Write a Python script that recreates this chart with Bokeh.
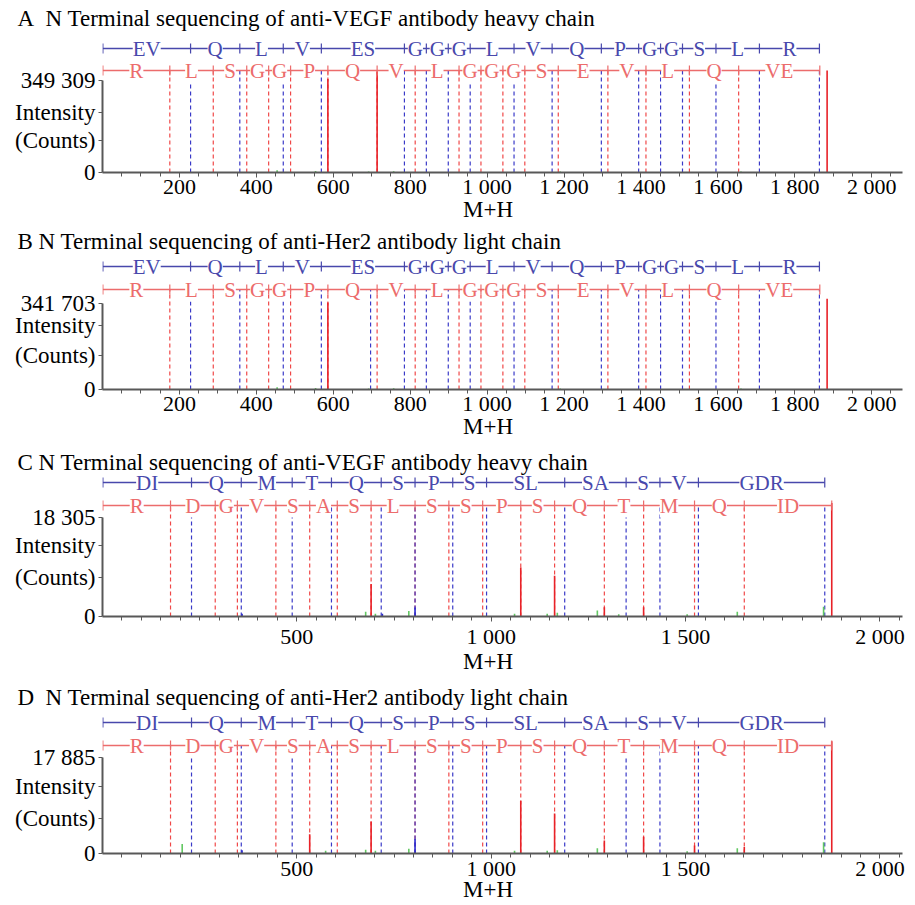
import math
from bokeh.plotting import figure
from bokeh.models import FixedTicker, Range1d, CustomJSTickFormatter
from bokeh.layouts import column
from bokeh.embed import file_html
from bokeh.resources import INLINE
from bokeh.core.properties import value

# ---------------- data ----------------
titles = [
    "A\u2002N Terminal sequencing of anti-VEGF antibody heavy chain",
    "B N Terminal sequencing of anti-Her2 antibody light chain",
    "C N Terminal sequencing of anti-VEGF antibody heavy chain",
    "D\u2002N Terminal sequencing of anti-Her2 antibody light chain",
]
y_max = [349309, 341703, 18305, 17885]
y_label_lines = ["Intensity", "(Counts)"]
x_label = "M+H"

# heavy chain ladders (panels A, B)
ab_blue_bounds = [1, 229, 357, 470, 569, 785, 842, 899, 956, 1070, 1169, 1297,
                  1394, 1451, 1508, 1595, 1708, 1864]
ab_blue_labels = ["EV", "Q", "L", "V", "ES", "G", "G", "G", "L", "V", "Q", "P",
                  "G", "G", "S", "L", "R"]
ab_red_bounds = [1, 175, 288, 375, 432, 489, 586, 714, 813, 927, 984, 1041, 1098,
                 1185, 1314, 1413, 1526, 1654, 1865]
ab_red_labels = ["R", "L", "S", "G", "G", "P", "Q", "V", "L", "G", "G", "G", "S",
                 "E", "V", "L", "Q", "VE"]
a_blue_dash = [229, 357, 470, 569, 785, 842, 899, 956, 1070, 1169, 1297, 1394,
               1451, 1508, 1595, 1708, 1864]
b_blue_dash = [229, 357, 470, 569, 697, 785, 842, 899, 956, 1070, 1169, 1297, 1394,
               1451, 1508, 1595, 1708, 1864]
ab_red_dash = [175, 288, 375, 432, 489, 586, 714, 813, 927, 984, 1041, 1098,
               1185, 1314, 1413, 1526, 1654]

# light chain ladders (panels C, D)
cd_blue_bounds = [1, 229, 357, 488, 589, 717, 804, 901, 988, 1189, 1347, 1434,
                  1533, 1858]
cd_blue_labels = ["DI", "Q", "M", "T", "Q", "S", "P", "S", "SL", "SA", "S", "V", "GDR"]
cd_red_bounds = [1, 175, 290, 347, 446, 533, 604, 691, 804, 891, 978, 1076, 1163,
                 1291, 1392, 1523, 1651, 1876]
cd_red_labels = ["R", "D", "G", "V", "S", "A", "S", "L", "S", "S", "P", "S", "Q",
                 "T", "M", "Q", "ID"]
cd_blue_dash = [229, 357, 488, 589, 717, 804, 901, 988, 1189, 1347, 1434, 1533, 1858]
cd_red_dash = [175, 290, 347, 446, 533, 604, 691, 804, 891, 978, 1076, 1163,
               1291, 1392, 1523, 1651]

# spectrum peaks (m/z, intensity)
a_red_mz = [586, 714, 1884]
a_red_int = [355000, 383000, 387000]
b_red_mz = [586, 1884]
b_red_int = [346000, 361000]
ab_green_mz = [454, 554, 692, 757, 1190, 1660]
ab_green_int = [9000, 6000, 4000, 5000, 4000, 4000]

c_red_mz = [691, 1076, 1163, 1291, 1392, 1876]
c_red_int = [5990, 9060, 7530, 1700, 1700, 21000]
c_blue_mz = [359, 720, 804]
c_blue_int = [500, 500, 1660]
c_green_mz = [677, 702, 788, 1060, 1144, 1170, 1273, 1328, 1504, 1633, 1855]
c_green_int = [900, 500, 1000, 500, 500, 700, 1100, 400, 400, 900, 1800]

d_red_mz = [533, 691, 1076, 1163, 1291, 1392, 1523, 1651, 1876]
d_red_int = [3580, 5970, 9840, 7460, 2400, 3110, 1500, 1190, 20900]
d_blue_mz = [359, 804]
d_blue_int = [600, 2680]
d_green_mz = [205, 574, 677, 702, 788, 1060, 1144, 1170, 1273, 1504, 1633, 1855]
d_green_int = [1790, 500, 700, 500, 900, 500, 500, 600, 1000, 400, 1000, 2090]

ab_x_major = [200, 400, 600, 800, 1000, 1200, 1400, 1600, 1800, 2000]
cd_x_major = [500, 1000, 1500, 2000]
x_minor = list(range(50, 2100, 50))

# ---------------- style ----------------
FONT = "Liberation Serif"
BLUE_TXT = "#4848ac"
RED_TXT = "#ec6c6c"
BLUE_DASH = "#3a3ac8"
RED_DASH = "#f04848"
PEAK_RED = "#e82228"
PEAK_BLUE = "#2a2ad0"
PEAK_GREEN = "#62c862"
AXIS = "#585858"

fmt = CustomJSTickFormatter(
    code="return tick.toString().replace(/\\B(?=(\\d{3})+(?!\\d))/g, ' ');")


def ladder(p, bounds, labels, level, color):
    p.segment(x0=[bounds[0]], x1=[bounds[-1]], y0=[level], y1=[level],
              line_color=color, line_width=1.3)
    mids = [(a + b) / 2 for a, b in zip(bounds[:-1], bounds[1:])]
    p.text(x=mids, y=[level] * len(mids), text=labels, text_align="center",
           text_baseline="middle", text_font=value(FONT), text_font_size="21px",
           text_color=color, background_fill_color="white")
    p.scatter(x=bounds, y=[level] * len(bounds), marker="dash", angle=math.pi / 2,
              size=10, line_color=color, line_width=1.2)


def vlines(p, xs, tops, color, width, dash="solid"):
    p.segment(x0=xs, x1=xs, y0=[0] * len(xs), y1=tops, line_color=color,
              line_width=width, line_dash=dash)


def panel(i, cfg, blue_b, blue_l, red_b, red_l, blue_d, red_d, peaks):
    ymax = y_max[i]
    ppy = cfg["ppy"]

    def yv(px):
        return ymax * px / ppy

    height = cfg["bt"] + cfg["fh"] + cfg["bb"]
    p = figure(width=907, height=height, output_backend="svg", toolbar_location=None,
               x_range=Range1d(0, cfg["xend"]), y_range=Range1d(0, yv(cfg["fh"])),
               min_border_left=102, min_border_right=5, min_border_top=cfg["bt"],
               min_border_bottom=cfg["bb"], outline_line_color=None,
               background_fill_color="white", border_fill_color="white")
    p.xgrid.visible = False
    p.ygrid.visible = False

    # title
    p.title.text = titles[i]
    p.title.align = "left"
    p.title.offset = -85
    p.title.standoff = cfg["tst"]
    p.title.text_font = FONT
    p.title.text_font_style = "normal"
    p.title.text_font_size = "23px"
    p.title.text_color = "black"

    red_y = yv(cfg["red"])
    blue_y = yv(cfg["blue"])

    vlines(p, red_d, [red_y] * len(red_d), RED_DASH, 1.2, "4 3")
    vlines(p, blue_d, [red_y] * len(blue_d), BLUE_DASH, 1.2, "4 3")
    for mz, it, col in peaks:
        vlines(p, mz, it, col, 1.6)

    ladder(p, red_b, red_l, red_y, RED_TXT)
    ladder(p, blue_b, blue_l, blue_y, BLUE_TXT)

    # x axis
    xa = p.xaxis[0]
    xa.ticker = FixedTicker(ticks=cfg["major"], minor_ticks=x_minor)
    xa.formatter = fmt
    xa.axis_line_color = AXIS
    xa.axis_line_width = 2
    xa.major_tick_line_color = AXIS
    xa.minor_tick_line_color = AXIS
    xa.major_tick_in = 0
    xa.major_tick_out = 5
    xa.minor_tick_in = 0
    xa.minor_tick_out = 4
    xa.major_label_standoff = cfg["xst"]
    xa.major_label_text_font = FONT
    xa.major_label_text_font_size = "22px"
    xa.major_label_text_color = "black"
    xa.axis_label = x_label + "\u00a0" * 5
    xa.axis_label_standoff = cfg["lst"]
    xa.axis_label_text_font = FONT
    xa.axis_label_text_font_style = "normal"
    xa.axis_label_text_font_size = "23px"
    xa.axis_label_text_color = "black"

    # y axis: 0 and maximum, with the two-line axis title set between them
    y_int = int(round(yv(cfg["int"])))
    y_cnt = int(round(yv(cfg["cnt"])))
    ya = p.yaxis[0]
    ya.ticker = FixedTicker(ticks=[0, y_cnt, y_int, ymax])
    ya.formatter = fmt
    ya.major_label_overrides = {y_int: y_label_lines[0], y_cnt: y_label_lines[1]}
    ya.bounds = (0, ymax)
    ya.axis_line_color = AXIS
    ya.axis_line_width = 2
    ya.major_tick_line_color = AXIS
    ya.major_tick_in = 0
    ya.major_tick_out = 4
    ya.minor_tick_line_color = None
    ya.major_label_standoff = 3
    ya.major_label_text_font = FONT
    ya.major_label_text_font_size = "23px"
    ya.major_label_text_color = "black"
    return p


cfgA = dict(bt=30, fh=142, bb=52, ppy=92, blue=124, red=102, tst=0, int=60, cnt=32,
            xend=2080, major=ab_x_major, xst=-4, lst=-5)
cfgB = dict(bt=29, fh=136, bb=52, ppy=86, blue=123, red=100, tst=0, int=64, cnt=34,
            xend=2080, major=ab_x_major, xst=-4, lst=-5)
cfgC = dict(bt=33, fh=142, bb=60, ppy=99, blue=134, red=111, tst=0, int=71, cnt=39,
            xend=2058, major=cd_x_major, xst=2, lst=-3)
cfgD = dict(bt=35, fh=142, bb=51, ppy=96, blue=131, red=108, tst=3, int=67, cnt=35,
            xend=2058, major=cd_x_major, xst=-3, lst=-7)

pA = panel(0, cfgA, ab_blue_bounds, ab_blue_labels, ab_red_bounds, ab_red_labels,
           a_blue_dash, ab_red_dash,
           [(ab_green_mz, ab_green_int, PEAK_GREEN), (a_red_mz, a_red_int, PEAK_RED)])
pB = panel(1, cfgB, ab_blue_bounds, ab_blue_labels, ab_red_bounds, ab_red_labels,
           b_blue_dash, ab_red_dash,
           [(ab_green_mz, ab_green_int, PEAK_GREEN), (b_red_mz, b_red_int, PEAK_RED)])
pC = panel(2, cfgC, cd_blue_bounds, cd_blue_labels, cd_red_bounds, cd_red_labels,
           cd_blue_dash, cd_red_dash,
           [(c_green_mz, c_green_int, PEAK_GREEN), (c_blue_mz, c_blue_int, PEAK_BLUE),
            (c_red_mz, c_red_int, PEAK_RED)])
pD = panel(3, cfgD, cd_blue_bounds, cd_blue_labels, cd_red_bounds, cd_red_labels,
           cd_blue_dash, cd_red_dash,
           [(d_green_mz, d_green_int, PEAK_GREEN), (d_blue_mz, d_blue_int, PEAK_BLUE),
            (d_red_mz, d_red_int, PEAK_RED)])

layout = column(pA, pB, pC, pD, spacing=0)
open("out.html", "w").write(file_html(layout, INLINE))
